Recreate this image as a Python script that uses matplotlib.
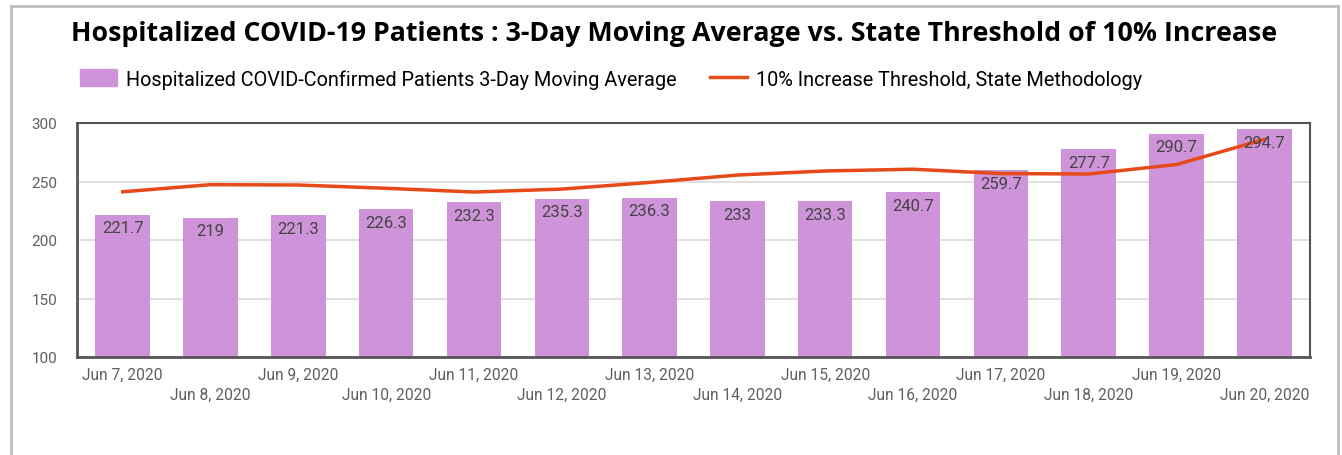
"""Hospitalized COVID-19 patients vs state threshold"""

import matplotlib.pyplot as plt
from matplotlib.patches import Rectangle
from matplotlib.lines import Line2D
import numpy as np

dates = ['Jun 7, 2020', 'Jun 8, 2020', 'Jun 9, 2020', 'Jun 10, 2020',
         'Jun 11, 2020', 'Jun 12, 2020', 'Jun 13, 2020', 'Jun 14, 2020',
         'Jun 15, 2020', 'Jun 16, 2020', 'Jun 17, 2020', 'Jun 18, 2020',
         'Jun 19, 2020', 'Jun 20, 2020']
moving_avg = [221.7, 219, 221.3, 226.3, 232.3, 235.3, 236.3, 233,
              233.3, 240.7, 259.7, 277.7, 290.7, 294.7]
threshold = [241.2, 247.3, 247.0, 244.2, 241.0, 243.5, 249.2, 255.5,
             259.0, 260.5, 256.8, 256.4, 264.5, 286.0]

bar_color = '#CE93D8'
line_color = '#E64A19'
text_gray = '#5f5f5f'

fig = plt.figure(figsize=(13.42, 4.56), dpi=100)
ax = fig.add_axes([77 / 1342, 1 - 358 / 456, (1310 - 77) / 1342, (358 - 124) / 456])

x = np.arange(len(dates))
ax.bar(x, moving_avg, width=0.62, color=bar_color, zorder=2)
ax.plot(x, threshold, color=line_color, linewidth=2.5, zorder=3)

# value labels inside bar tops
for xi, v in zip(x, moving_avg):
    ax.annotate(str(v), (xi, v), xytext=(0, -4), textcoords='offset points',
                ha='center', va='top', fontsize=12, color='#444444',
                family='Roboto', zorder=4)

ax.set_xlim(-0.52, len(dates) - 0.48)
ax.set_ylim(100, 300)
ax.set_yticks([100, 150, 200, 250, 300])
ax.yaxis.grid(True, color='#d9d9d9', linewidth=1.2, zorder=0)
ax.set_axisbelow(True)
ax.tick_params(axis='y', length=0, pad=14, labelsize=11, labelcolor=text_gray)
for lbl in ax.get_yticklabels():
    lbl.set_family('Roboto')

# staggered date labels
ax.set_xticks(x)
ax.set_xticklabels([])
ax.tick_params(axis='x', length=0)
for xi, d in zip(x, dates):
    yoff = -0.075 if xi % 2 == 0 else -0.16
    ax.text(xi, yoff, d, transform=ax.get_xaxis_transform(), ha='center',
            va='center', fontsize=11.2, color=text_gray, family='Roboto')

for side in ['left', 'bottom', 'top', 'right']:
    ax.spines[side].set_color('#555555')
    ax.spines[side].set_linewidth(1.5)
ax.spines['left'].set_linewidth(2)
ax.spines['bottom'].set_linewidth(2)

# outer gray frame
fig.add_artist(Line2D([11 / 1342, 11 / 1342], [0, 1 - 7 / 456], color='#bdbdbd',
                      linewidth=2, transform=fig.transFigure))
fig.add_artist(Line2D([1338 / 1342, 1338 / 1342], [0, 1 - 7 / 456], color='#bdbdbd',
                      linewidth=2, transform=fig.transFigure))
fig.add_artist(Line2D([11 / 1342, 1338 / 1342], [1 - 7 / 456, 1 - 7 / 456],
                      color='#bdbdbd', linewidth=2, transform=fig.transFigure))

fig.text(674 / 1342, 1 - 34 / 456,
         'Hospitalized COVID-19 Patients : 3-Day Moving Average vs. State Threshold of 10% Increase',
         ha='center', va='center', fontsize=19.3, fontweight='bold',
         family='Open Sans', color='black')

handles = [Rectangle((0, 0), 1, 1, color=bar_color),
           Line2D([0], [0], color=line_color, linewidth=2.5)]
labels = ['Hospitalized COVID-Confirmed Patients 3-Day Moving Average',
          '10% Increase Threshold, State Methodology']
fig.legend(handles, labels, loc='center left', bbox_to_anchor=(62 / 1342, 1 - 80 / 456),
           ncol=2, frameon=False, prop={'family': 'Roboto', 'size': 14.3},
           handlelength=1.85, handleheight=0.95, columnspacing=1.7, handletextpad=0.45)

fig.savefig('out.png', dpi=100)
